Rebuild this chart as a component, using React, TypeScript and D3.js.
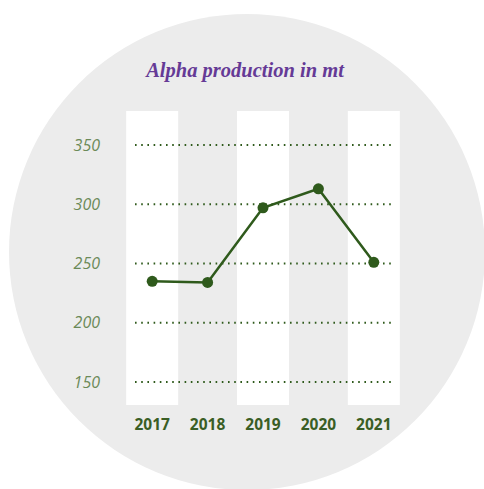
import React from "react";
import * as d3 from "d3";

const years = ["2017", "2018", "2019", "2020", "2021"];
const production = [235, 234, 297, 313, 251];
const yTicks = [150, 200, 250, 300, 350];
const title = "Alpha production in mt";

export default function App() {
  const W = 484, H = 489;
  const x = d3.scaleBand<string>().domain(years).range([124.5, 401.5]).paddingInner(0).paddingOuter(0);
  const y = d3.scaleLinear().domain([150, 350]).range([382, 145]);
  const bw = x.bandwidth();
  const line = d3.line<number>().x((_, i) => (x(years[i]) as number) + bw / 2).y((d) => y(d));
  const green = "#2f5a1c";
  return (
    <svg width={W} height={H} style={{ position: "absolute", left: 0, top: 0 }}>
      <rect width={W} height={H} fill="#ffffff" />
      <circle cx={247} cy={252} r={238} fill="#ececec" />
      <text x={245} y={77} textAnchor="middle" fill="#653a96" fontFamily="'Liberation Serif', serif" fontWeight="bold" fontStyle="italic" fontSize={20.5}>{title}</text>
      {years.map((yr, i) => i % 2 === 0 ? (
        <rect key={yr} x={(x(yr) as number) + bw / 2 - 26} y={111} width={52} height={294} fill="#ffffff" />
      ) : null)}
      {yTicks.map((t) => (
        <g key={t}>
          <line x1={135} x2={394} y1={y(t)} y2={y(t)} stroke={green} strokeWidth={1.8} strokeDasharray="1.6 4.6" />
          <text x={100} y={y(t) + 5.5} textAnchor="end" fill="#6b8a58" fontFamily="'Open Sans', sans-serif" fontStyle="italic" fontWeight={400} fontSize={16}>{t}</text>
        </g>
      ))}
      <path d={line(production) || ""} fill="none" stroke={green} strokeWidth={2.5} />
      {production.map((v, i) => (
        <circle key={i} cx={(x(years[i]) as number) + bw / 2} cy={y(v)} r={5.5} fill={green} />
      ))}
      {years.map((yr) => (
        <text key={yr} x={(x(yr) as number) + bw / 2} y={430} textAnchor="middle" fill="#3a5e25" fontFamily="'Open Sans', sans-serif" fontWeight="bold" fontSize={15.5}>{yr}</text>
      ))}
    </svg>
  );
}
